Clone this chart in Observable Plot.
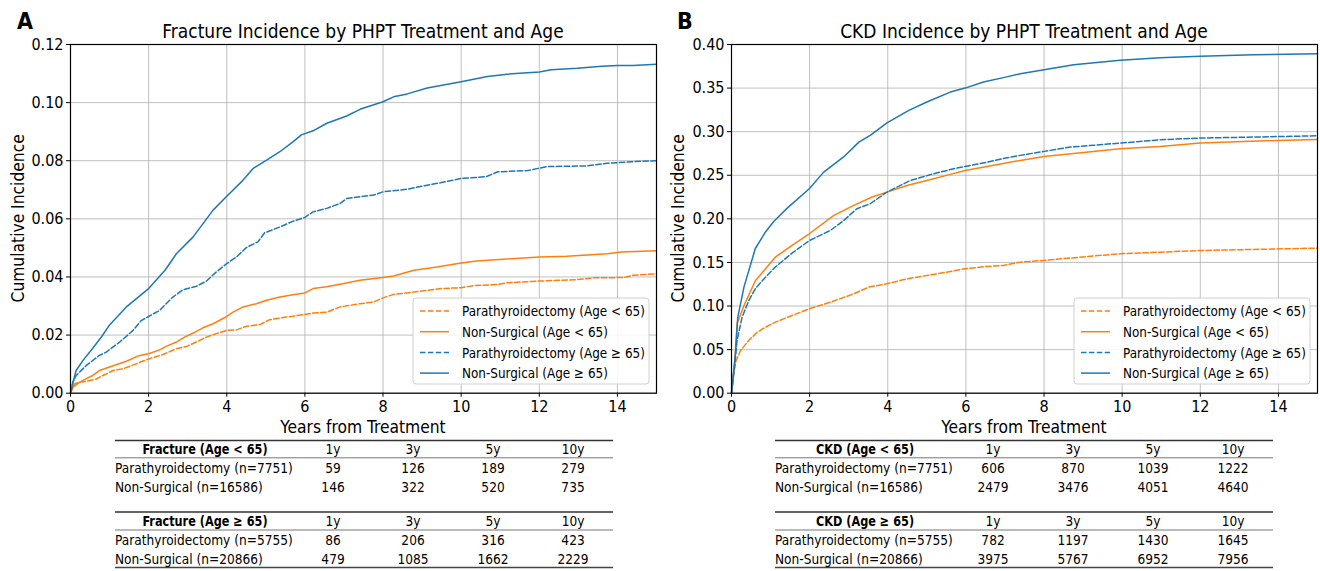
<!DOCTYPE html>
<html>
<head>
<meta charset="utf-8">
<script src="https://cdn.jsdelivr.net/npm/d3@7"></script>
<script src="https://cdn.jsdelivr.net/npm/@observablehq/plot@0.6"></script>
<style>
  html, body { margin: 0; padding: 0; background: #fff; }
  #root { position: relative; width: 1320px; height: 571px; overflow: hidden; background: #fff; }
  .plotbox { position: absolute; top: 0; }
  #overlay { position: absolute; left: 0; top: 0; pointer-events: none; }
</style>
</head>
<body>
<div id="root"></div>
<script>
const FONT = '"DejaVu Sans Condensed", "DejaVu Sans", sans-serif';
const ORANGE = "#ff7f0e";
const BLUE = "#1f77b4";

// ---------- Data: Fracture (panel A), [years, cumulative incidence] ----------
const fracturePtxUnder65 = [[0,0],[0.1,0.0032],[0.23,0.0038],[0.4,0.0041],[0.66,0.0049],[0.83,0.0061],[1.09,0.0078],[1.34,0.0084],[1.68,0.0101],[2.0,0.0118],[2.37,0.0133],[2.71,0.0153],[2.97,0.0161],[3.22,0.0176],[3.48,0.0193],[3.73,0.0205],[4.0,0.0216],[4.25,0.0218],[4.5,0.023],[4.85,0.0236],[5.1,0.0253],[5.53,0.0262],[6.0,0.0271],[6.21,0.0276],[6.56,0.0279],[6.9,0.0297],[7.41,0.0308],[7.76,0.0314],[8.0,0.0328],[8.27,0.034],[8.79,0.0348],[9.47,0.036],[10.0,0.0363],[10.3,0.037],[10.94,0.0374],[11.18,0.038],[12.0,0.0386],[12.89,0.039],[13.4,0.0397],[14.17,0.0398],[14.4,0.0406],[15,0.0411]];
const fractureNsUnder65 = [[0,0],[0.06,0.002],[0.19,0.0034],[0.32,0.0044],[0.57,0.0061],[0.74,0.0078],[1.0,0.009],[1.43,0.011],[1.77,0.013],[2.0,0.0136],[2.28,0.0149],[2.45,0.0161],[2.71,0.0176],[2.92,0.0193],[3.14,0.0207],[3.39,0.0225],[3.65,0.0239],[4.0,0.0264],[4.16,0.0279],[4.42,0.0297],[4.76,0.0308],[5.02,0.032],[5.36,0.0331],[5.7,0.0339],[6.0,0.0345],[6.21,0.036],[6.56,0.0366],[6.9,0.0375],[7.41,0.0389],[8.0,0.0398],[8.27,0.0403],[8.79,0.0423],[9.38,0.0434],[10.0,0.0448],[10.4,0.0455],[11.07,0.0461],[12.0,0.0469],[12.7,0.0471],[13.74,0.048],[14.1,0.0486],[15,0.049]];
const fracturePtxOver65 = [[0,0],[0.06,0.0038],[0.145,0.0061],[0.4,0.0095],[0.74,0.013],[0.91,0.0141],[1.26,0.0176],[1.6,0.0216],[1.81,0.025],[2.0,0.0264],[2.28,0.0285],[2.62,0.0331],[2.88,0.0356],[3.22,0.0368],[3.48,0.0386],[3.73,0.0417],[4.0,0.0446],[4.25,0.0469],[4.5,0.0501],[4.8,0.0521],[4.97,0.0552],[5.36,0.0572],[5.7,0.0592],[6.0,0.0605],[6.21,0.0624],[6.56,0.0636],[6.9,0.0653],[7.07,0.067],[7.41,0.0676],[7.76,0.0682],[8.0,0.0693],[8.62,0.0702],[9.13,0.0716],[9.47,0.0724],[10.0,0.0739],[10.64,0.0745],[10.94,0.0762],[11.7,0.0766],[12.2,0.078],[13.2,0.0782],[13.74,0.0791],[14.4,0.0797],[15,0.080]];
const fractureNsOver65 = [[0,0],[0.06,0.0035],[0.145,0.0078],[0.32,0.0113],[0.57,0.0155],[0.8,0.0195],[1.0,0.0235],[1.43,0.0297],[2.0,0.036],[2.42,0.0423],[2.71,0.048],[3.14,0.0538],[3.65,0.063],[4.0,0.0678],[4.38,0.0728],[4.68,0.0774],[5.02,0.0802],[5.36,0.0831],[5.7,0.0866],[5.91,0.0889],[6.21,0.0903],[6.56,0.0929],[7.07,0.0954],[7.41,0.0977],[8.0,0.1003],[8.27,0.102],[8.62,0.103],[9.13,0.105],[10.0,0.1072],[10.67,0.109],[11.18,0.1098],[12.0,0.1105],[12.3,0.1113],[12.97,0.1118],[13.6,0.1125],[14.0,0.1128],[14.4,0.1128],[15,0.1132]];

// ---------- Data: CKD (panel B) ----------
const ckdPtxUnder65 = [[0,0],[0.06,0.026],[0.12,0.0375],[0.23,0.049],[0.44,0.0604],[0.66,0.07],[0.87,0.0757],[1.12,0.0815],[1.55,0.0891],[1.99,0.0968],[2.53,0.1044],[3.13,0.114],[3.51,0.1217],[3.98,0.1255],[4.49,0.1312],[5.0,0.135],[5.6,0.1396],[5.98,0.1427],[6.54,0.1454],[6.96,0.1465],[7.39,0.1503],[8.0,0.1523],[9.1,0.1568],[9.95,0.1599],[10.97,0.1618],[12.0,0.1637],[13.36,0.1649],[15,0.1664]];
const ckdNsUnder65 = [[0,0],[0.085,0.0375],[0.145,0.08],[0.32,0.1006],[0.61,0.129],[0.87,0.1427],[1.12,0.156],[1.55,0.1695],[1.99,0.1829],[2.62,0.2039],[3.13,0.2154],[3.6,0.225],[3.98,0.2307],[4.49,0.2383],[5.0,0.244],[5.6,0.251],[5.98,0.2555],[6.54,0.26],[7.39,0.267],[8.0,0.2716],[9.95,0.2804],[10.97,0.2831],[12.0,0.2869],[13.97,0.29],[15,0.2911]];
const ckdPtxOver65 = [[0,0],[0.08,0.03],[0.14,0.06],[0.27,0.087],[0.44,0.106],[0.61,0.12],[0.87,0.133],[1.12,0.1446],[1.55,0.1607],[1.99,0.175],[2.53,0.1867],[2.87,0.198],[3.21,0.2116],[3.55,0.2173],[3.98,0.2307],[4.58,0.244],[5.17,0.2517],[5.69,0.2575],[5.98,0.2601],[6.54,0.265],[7.05,0.27],[7.39,0.2728],[8.0,0.2774],[8.67,0.2823],[9.95,0.2869],[10.97,0.2907],[12.0,0.2927],[13.36,0.2938],[15,0.2953]];
const ckdNsOver65 = [[0,0],[0.1,0.045],[0.16,0.087],[0.32,0.122],[0.61,0.166],[0.87,0.185],[1.08,0.197],[1.42,0.212],[1.99,0.2345],[2.36,0.2536],[2.87,0.271],[3.26,0.288],[3.55,0.2957],[3.98,0.31],[4.54,0.3244],[5.0,0.334],[5.6,0.3454],[5.98,0.35],[6.45,0.357],[6.96,0.362],[7.39,0.3665],[8.0,0.371],[8.76,0.3768],[9.95,0.3818],[10.97,0.3849],[12.0,0.3864],[13.36,0.3883],[15,0.3894]];

// ---------- Labels, ticks ----------
const seriesLabels = ["Parathyroidectomy (Age < 65)", "Non-Surgical (Age < 65)", "Parathyroidectomy (Age \u2265 65)", "Non-Surgical (Age \u2265 65)"];
const seriesColors = [ORANGE, ORANGE, BLUE, BLUE];
const seriesDashed = [true, false, true, false];
const xTicks = [0, 2, 4, 6, 8, 10, 12, 14];
const fractureYTicks = [0, 0.02, 0.04, 0.06, 0.08, 0.10, 0.12];
const ckdYTicks = [0, 0.05, 0.10, 0.15, 0.20, 0.25, 0.30, 0.35, 0.40];
const xLabel = "Years from Treatment";
const yLabel = "Cumulative Incidence";

// ---------- Tables ----------
const tableCols = ["1y", "3y", "5y", "10y"];
const fractureUnder65Rows = [["Parathyroidectomy (n=7751)", 59, 126, 189, 279], ["Non-Surgical (n=16586)", 146, 322, 520, 735]];
const fractureOver65Rows = [["Parathyroidectomy (n=5755)", 86, 206, 316, 423], ["Non-Surgical (n=20866)", 479, 1085, 1662, 2229]];
const ckdUnder65Rows = [["Parathyroidectomy (n=7751)", 606, 870, 1039, 1222], ["Non-Surgical (n=16586)", 2479, 3476, 4051, 4640]];
const ckdOver65Rows = [["Parathyroidectomy (n=5755)", 782, 1197, 1430, 1645], ["Non-Surgical (n=20866)", 3975, 5767, 6952, 7956]];

const panels = [
  { letter: "A", title: "Fracture Incidence by PHPT Treatment and Age", left: 0, marginLeft: 70,
    series: [fracturePtxUnder65, fractureNsUnder65, fracturePtxOver65, fractureNsOver65],
    yDomain: [0, 0.12], yTicks: fractureYTicks,
    tables: [["Fracture (Age < 65)", fractureUnder65Rows], ["Fracture (Age \u2265 65)", fractureOver65Rows]],
    tableLeft: 115, legendLeft: 413 },
  { letter: "B", title: "CKD Incidence by PHPT Treatment and Age", left: 660, marginLeft: 71,
    series: [ckdPtxUnder65, ckdNsUnder65, ckdPtxOver65, ckdNsOver65],
    yDomain: [0, 0.40], yTicks: ckdYTicks,
    tables: [["CKD (Age < 65)", ckdUnder65Rows], ["CKD (Age \u2265 65)", ckdOver65Rows]],
    tableLeft: 775, legendLeft: 1074 }
];

const root = document.getElementById("root");
const W = 660, H = 440, MT = 44, PB = 392.7;

for (const p of panels) {
  const marks = [
    Plot.gridX(xTicks, { stroke: "#b0b0b0", strokeOpacity: 1, strokeWidth: 0.8 }),
    Plot.gridY(p.yTicks, { stroke: "#b0b0b0", strokeOpacity: 1, strokeWidth: 0.8 })
  ];
  p.series.forEach((s, i) => {
    marks.push(Plot.line(s, {
      x: d => d[0], y: d => d[1], stroke: seriesColors[i], strokeWidth: 1.5,
      strokeDasharray: seriesDashed[i] ? "5.5,2.4" : null
    }));
  });
  marks.push(Plot.frame({ stroke: "#000", strokeWidth: 1.2 }));
  marks.push(Plot.axisX(xTicks, { tickSize: 4, tickPadding: 3, fontSize: 16, label: null }));
  marks.push(Plot.axisY(p.yTicks, { tickSize: 4, tickPadding: 3, fontSize: 16, label: null, tickFormat: d3.format(".2f") }));
  const chart = Plot.plot({
    width: W, height: H,
    marginLeft: p.marginLeft, marginRight: W - 656 - (p.marginLeft - 70), marginTop: MT, marginBottom: H - PB,
    style: { fontFamily: FONT, fontSize: "16px", background: "transparent", color: "#000" },
    x: { domain: [0, 15], label: null },
    y: { domain: p.yDomain, label: null },
    marks
  });
  const box = document.createElement("div");
  box.className = "plotbox";
  box.style.left = p.left + "px";
  box.appendChild(chart);
  root.appendChild(box);
}

// ---------- Overlay: letters, titles, axis labels, legends, tables ----------
const svg = d3.select(root).append("svg").attr("id", "overlay")
  .attr("width", 1320).attr("height", 571)
  .style("font-family", FONT);

// condensed text helper: horizontal squeeze keeps glyph height
function ctext(str, x, y, size, sx, anchor, bold) {
  return svg.append("text").text(str)
    .attr("transform", `translate(${x},${y}) scale(${sx},1)`)
    .attr("text-anchor", anchor || "start")
    .attr("font-size", size)
    .attr("font-weight", bold ? "bold" : null);
}

for (const p of panels) {
  const x0 = p.left + p.marginLeft, x1 = x0 + 586;
  const cx = (x0 + x1) / 2;
  svg.append("text").text(p.letter).attr("x", p.left + 17).attr("y", 29)
    .attr("font-size", 23).attr("font-weight", "bold");
  ctext(p.title, cx, 38, 20, 0.95, "middle");
  ctext(xLabel, cx, 433, 18, 0.96, "middle");
  svg.append("text").text(yLabel)
    .attr("transform", `translate(${p.left + 24},${(MT + PB) / 2}) rotate(-90) scale(0.96,1)`)
    .attr("text-anchor", "middle").attr("font-size", 18);

  // legend
  const lx = p.legendLeft, ly = 298;
  svg.append("rect").attr("x", lx).attr("y", ly).attr("width", 236).attr("height", 86)
    .attr("rx", 3).attr("fill", "#fff").attr("fill-opacity", 0.85)
    .attr("stroke", "#d0d0d0").attr("stroke-width", 1);
  seriesLabels.forEach((lab, i) => {
    const yy = 311 + i * 20.7;
    svg.append("line").attr("x1", lx + 7).attr("x2", lx + 36).attr("y1", yy).attr("y2", yy)
      .attr("stroke", seriesColors[i]).attr("stroke-width", 1.5)
      .attr("stroke-dasharray", seriesDashed[i] ? "5.5,2.4" : null);
    ctext(lab, lx + 49, yy + 5.3, 14.6, 0.915);
  });

  // tables
  const tx = p.tableLeft, tw = 498;
  const colOff = [218, 298, 378, 458];
  const blocks = [{ top: 440.5, hdr: 449, mid: 457.8, rows: [468, 487] },
                  { top: 512, hdr: 521, mid: 530, rows: [540, 559], bottom: 567.5 }];
  p.tables.forEach(([hdr, rows], bi) => {
    const b = blocks[bi];
    svg.append("line").attr("x1", tx).attr("x2", tx + tw).attr("y1", b.top).attr("y2", b.top)
      .attr("stroke", "#333").attr("stroke-width", 1.6);
    svg.append("line").attr("x1", tx).attr("x2", tx + tw).attr("y1", b.mid).attr("y2", b.mid)
      .attr("stroke", "#777").attr("stroke-width", 1);
    if (b.bottom) svg.append("line").attr("x1", tx).attr("x2", tx + tw).attr("y1", b.bottom).attr("y2", b.bottom)
      .attr("stroke", "#444").attr("stroke-width", 1.4);
    ctext(hdr, tx + 90, b.hdr + 5.3, 14.6, 0.86, "middle", true);
    tableCols.forEach((c, j) => {
      ctext(c, tx + colOff[j], b.hdr + 5.3, 14.6, 0.93, "middle");
    });
    rows.forEach((r, ri) => {
      ctext(r[0], tx, b.rows[ri] + 5.3, 14.6, 0.93);
      for (let j = 1; j < r.length; j++) {
        ctext(r[j], tx + colOff[j - 1], b.rows[ri] + 5.3, 14.6, 0.93, "middle");
      }
    });
  });
}
</script>
</body>
</html>
